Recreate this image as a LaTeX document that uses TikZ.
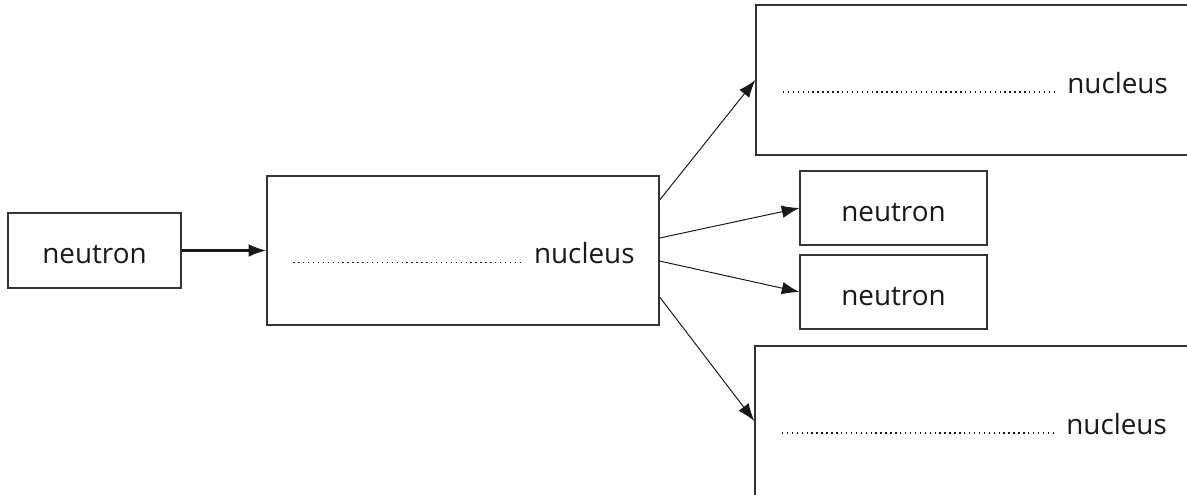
\documentclass[tikz,border=0pt]{standalone}
\usepackage{fontspec}
\setmainfont{Open Sans}
\usetikzlibrary{arrows.meta}
\newcommand\dotsline[1]{\leavevmode\leaders\hbox to 3.5pt{\hss\rule[0.6pt]{1pt}{1pt}\hss}\hskip #1\relax}

\begin{document}
\begin{tikzpicture}[x=0.025cm,y=-0.025cm,
        box/.style={draw=boxc,line width=0.9pt,inner sep=0pt,text=txt,text height=19pt,text depth=0pt},
        small/.style={box,minimum width=4.675cm,minimum height=1.85cm},
        big/.style={box,minimum width=10.925cm,minimum height=3.75cm},
        arr/.style={draw=black!90,line width=0.7pt,-{Latex[length=12.5pt,width=9pt]}}]
            \fontsize{19.8}{24}\selectfont
            \colorlet{boxc}{black!80}
            \colorlet{txt}{black!90}

            \useasboundingbox (0,0) rectangle (1187,494);
            \clip (0,0) rectangle (1187,494);

            \node [box,minimum width=4.325cm,minimum height=1.875cm] (n0) at (94.5,250.5) {neutron};
            \node [box,minimum width=9.8cm,minimum height=3.725cm] (nuc0) at (463,250.5) {\dotsline{167pt}\hspace{5.5pt}nucleus};
            \node [big] (nuc1) at (974.5,80) {\dotsline{198pt}\hspace{5.5pt}nucleus};
            \node [big] (nuc2) at (973.5,421) {\dotsline{198pt}\hspace{5.5pt}nucleus};
            \node [small] (n1) at (893.5,208) {neutron};
            \node [small] (n2) at (893.5,292) {neutron};

            \draw [arr,line width=1.6pt] (n0) -- (nuc0);
            \foreach \s/\t in {35.9pt/nuc1,8.9pt/n1,-7.5pt/n2,-33.1pt/nuc2} {
                \draw [arr] ([yshift=\s]nuc0.east) -- (\t.west);
            }
        \end{tikzpicture}
\end{document}
